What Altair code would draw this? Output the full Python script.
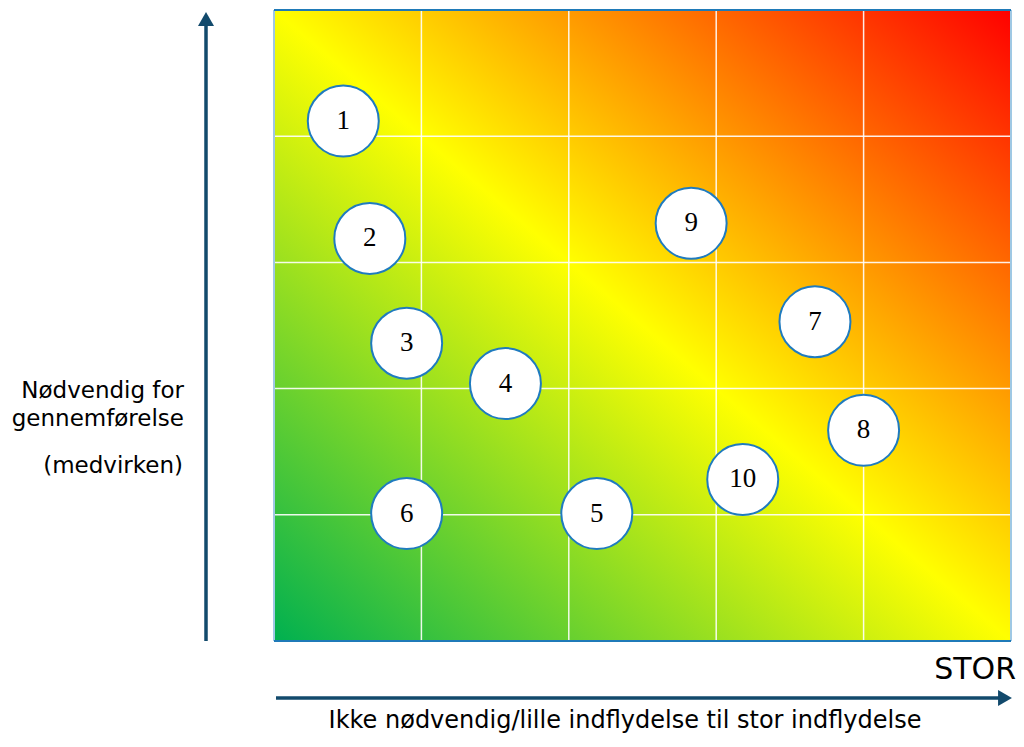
import altair as alt
import pandas as pd

# ---- data ----
labels = ["1", "2", "3", "4", "5", "6", "7", "8", "9", "10"]
x_vals = [0.47, 0.65, 0.90, 1.57, 2.19, 0.90, 3.67, 4.00, 2.83, 3.18]
y_vals = [4.12, 3.19, 2.36, 2.04, 1.01, 1.01, 2.53, 1.67, 3.31, 1.28]
grid_vals = [1, 2, 3, 4]
edge_vals = [0, 5]
y_title_lines = ["Nødvendig for", "gennemførelse"]
y_subtitle = "(medvirken)"
x_title = "Ikke nødvendig/lille indflydelse til stor indflydelse"
x_end_label = "STOR"

W, H = 737, 631
AC = "#124a6c"

xs = alt.Scale(domain=[0, 5], nice=False, zero=False)
ys = alt.Scale(domain=[0, 5], nice=False, zero=False)

pts = pd.DataFrame({"label": labels, "x": x_vals, "y": y_vals})
one = pd.DataFrame({"a": [0]})

grad = alt.LinearGradient(
    gradient="linear",
    stops=[
        alt.GradientStop(color="#00b050", offset=0),
        alt.GradientStop(color="#ffff00", offset=0.5),
        alt.GradientStop(color="#ff0000", offset=1),
    ],
    x1=0, y1=1, x2=1, y2=0,
)

bg = alt.Chart(pd.DataFrame({"x": [0], "x2": [5], "y": [0], "y2": [5]})).mark_rect(
    fill=grad
).encode(
    x=alt.X("x:Q", scale=xs, axis=None),
    x2="x2:Q",
    y=alt.Y("y:Q", scale=ys, axis=None),
    y2="y2:Q",
)

gdf = pd.DataFrame({"g": grid_vals})
vgrid = alt.Chart(gdf).mark_rule(color="white", strokeWidth=1.5, opacity=0.9).encode(
    x=alt.X("g:Q", scale=xs, axis=None), y=alt.value(0), y2=alt.value(H)
)
hgrid = alt.Chart(gdf).mark_rule(color="white", strokeWidth=1.5, opacity=0.9).encode(
    y=alt.Y("g:Q", scale=ys, axis=None), x=alt.value(0), x2=alt.value(W)
)

edf = pd.DataFrame({"e": edge_vals})
hedge = alt.Chart(edf).mark_rule(color="#1f7ab8", strokeWidth=2).encode(
    y=alt.Y("e:Q", scale=ys, axis=None), x=alt.value(0), x2=alt.value(W)
)
vedge = alt.Chart(edf).mark_rule(color="#9fc8e4", strokeWidth=2).encode(
    x=alt.X("e:Q", scale=xs, axis=None), y=alt.value(0), y2=alt.value(H)
)

circles = alt.Chart(pts).mark_point(
    shape="circle", filled=True, fill="white", stroke="#1f7bbf",
    strokeWidth=2, size=5041, opacity=1
).encode(
    x=alt.X("x:Q", scale=xs, axis=None),
    y=alt.Y("y:Q", scale=ys, axis=None),
)

texts = alt.Chart(pts).mark_text(
    font="Liberation Serif", fontSize=27, color="black", baseline="middle", align="center"
).encode(
    x=alt.X("x:Q", scale=xs, axis=None),
    y=alt.Y("y:Q", scale=ys, axis=None),
    text="label:N",
)

# axis arrows
v_line = alt.Chart(one).mark_rule(color=AC, strokeWidth=3.5).encode(
    x=alt.value(-68), y=alt.value(H), y2=alt.value(14)
)
v_head = alt.Chart(one).mark_point(
    shape="triangle-up", filled=True, color=AC, size=256, opacity=1
).encode(x=alt.value(-68), y=alt.value(9))

h_line = alt.Chart(one).mark_rule(color=AC, strokeWidth=3.5).encode(
    y=alt.value(688), x=alt.value(2), x2=alt.value(726)
)
h_head = alt.Chart(one).mark_point(
    shape="triangle-right", filled=True, color=AC, size=256, opacity=1
).encode(x=alt.value(731), y=alt.value(688))

def label(txt, x, y, size=23, align="right"):
    return alt.Chart(one).mark_text(
        font="DejaVu Sans", fontSize=size, color="black", align=align, baseline="alphabetic"
    ).encode(x=alt.value(x), y=alt.value(y), text=alt.value(txt))

yt1 = label(y_title_lines[0], -90, 388)
yt2 = label(y_title_lines[1], -90, 416)
yt3 = label(y_subtitle, -91, 463)
xt = label(x_title, 351, 718, size=24, align="center")
stor = label(x_end_label, 742, 669, size=30)

chart = alt.layer(
    bg, vgrid, hgrid, vedge, hedge, circles, texts,
    v_line, v_head, h_line, h_head, yt1, yt2, yt3, xt, stor
).properties(
    width=W, height=H,
    padding={"left": 266, "top": 2, "right": 5, "bottom": 92},
    autosize=alt.AutoSizeParams(type="none"),
).configure_view(stroke=None)

chart.save("out.html", embed_options={"renderer": "svg", "actions": False})
